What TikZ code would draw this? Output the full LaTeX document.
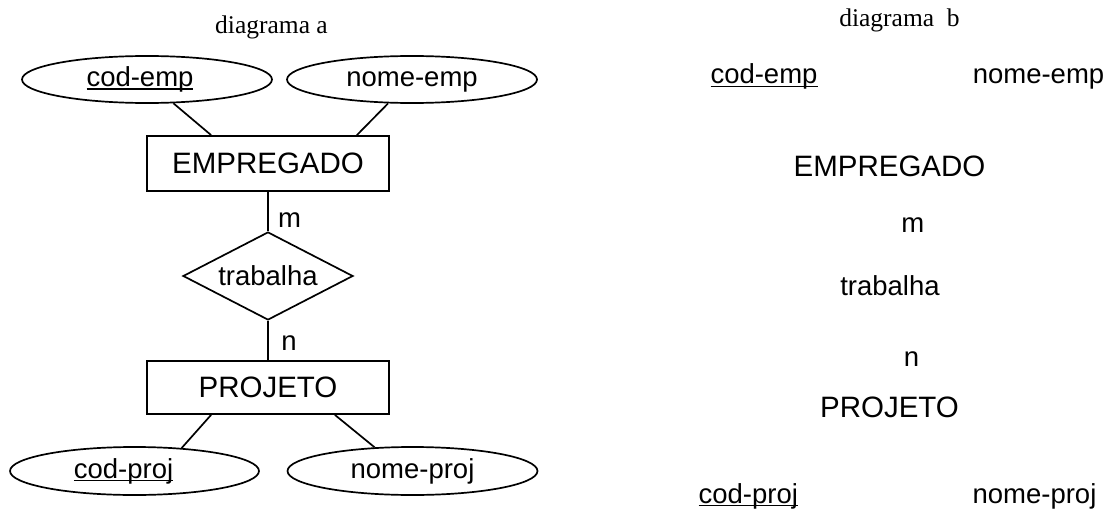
\documentclass[tikz,border=0pt]{standalone}
\usepackage{fontspec}
\setmainfont{Liberation Sans}
\newfontfamily\capfont{Liberation Serif}
\usetikzlibrary{shapes.geometric}
\newcommand\undl[1]{\leavevmode\setbox0\hbox{#1}\rlap{\rule[-3.4pt]{\wd0}{1.7pt}}\box0}
\tikzset{
  base/.style={line width=1.7pt, draw=black},
  attr/.style={base, ellipse, inner sep=0pt, minimum width=250pt, minimum height=47pt,
    font=\fontsize{27.5pt}{33pt}\selectfont, text height=19.8pt, text depth=5.8pt},
  entity/.style={base, rectangle, inner sep=0pt, minimum width=242pt,
    font=\fontsize{29.5pt}{35pt}\selectfont},
  rel/.style={base, diamond, aspect=1.93, inner sep=0pt, minimum width=170pt, minimum height=88pt,
    font=\fontsize{27.5pt}{33pt}\selectfont},
  conn/.style={line width=1.7pt},
  card/.style={anchor=base, inner sep=0pt, font=\fontsize{27.5pt}{33pt}\selectfont},
  plain/.style={anchor=base, inner sep=0pt, font=\fontsize{27.5pt}{33pt}\selectfont},
  plainent/.style={anchor=base, inner sep=0pt, font=\fontsize{29.5pt}{35pt}\selectfont},
  title/.style={anchor=base, inner sep=0pt, font=\capfont\fontsize{25.5pt}{30pt}\selectfont}
}
\begin{document}
\begin{tikzpicture}[x=1pt,y=-1pt]
\path[use as bounding box] (0,0) rectangle (1106,511);
% ---------- diagrama a ----------
\node[title] (ta) at (271.5,33.3) {diagrama a};
\node[attr] (ce) at (147,79.5) {\undl{cod-emp}\kern14pt};
\node[attr] (ne) at (412,79.5) {nome-emp};
\node[entity, minimum height=55pt] (emp) at (268,163.5) {EMPREGADO};
\node[rel] (trab) at (268,276) {trabalha};
\node[entity, minimum height=53pt] (proj) at (268,387.5) {PROJETO};
\node[attr, minimum width=249pt, minimum height=48pt] (cp) at (134.5,471) {\undl{cod-proj}\kern22pt};
\node[attr, minimum height=48pt] (np) at (412.5,471) {nome-proj};
\draw[conn] (ce.-42.6) -- ([xshift=65pt]emp.north west);
\draw[conn] (ne.225.6) -- ([xshift=-33pt]emp.north east);
\draw[conn] (emp.south) -- (trab.north);
\draw[conn] (trab.south) -- (proj.north);
\draw[conn] ([xshift=65pt]proj.south west) -- (cp.26.8);
\draw[conn] ([xshift=-55pt]proj.south east) -- (np.148.5);
\node[card] (m) at (289.5,227) {m};
\node[card] (n) at (289,350) {n};
% ---------- diagrama b ----------
\node[title] (tb) at (899.5,26.7) {diagrama\ \ b};
\node[plain] (bce) at (764,84) {\undl{cod-emp}};
\node[plain] (bne) at (1038.5,84) {nome-emp};
\node[plainent] (bemp) at (889.5,176.7) {EMPREGADO};
\node[plain] (bm) at (912.7,232.7) {m};
\node[plain] (btrab) at (890,295) {trabalha};
\node[plain] (bn) at (911.5,366.7) {n};
\node[plainent] (bproj) at (889.5,417.7) {PROJETO};
\node[plain] (bcp) at (748.3,503) {\undl{cod-proj}};
\node[plain] (bnp) at (1034.5,503) {nome-proj};
\end{tikzpicture}
\end{document}
